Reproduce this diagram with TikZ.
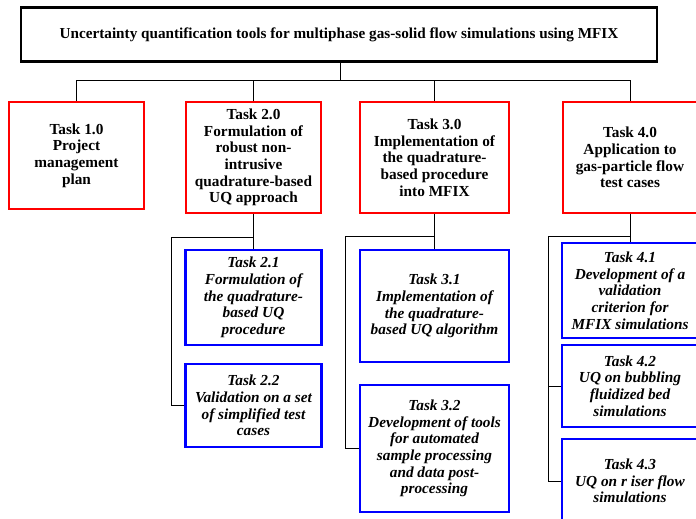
\documentclass[tikz,border=0pt]{standalone}
\usepackage{fontspec}
\setmainfont{Liberation Serif}
\begin{document}
\begin{tikzpicture}[x=1pt,y=-1pt,
  topbox/.style={draw=black, line width=2.4pt, minimum width=636pt, minimum height=54pt, inner sep=0pt, font=\bfseries\fontsize{15.2}{16}\selectfont},
  mainbox/.style={draw=red, line width=2.4pt, align=center, inner sep=0pt, font=\bfseries\fontsize{15.3}{16.7}\selectfont},
  subbox/.style={draw=blue, line width=2.4pt, align=center, inner sep=0pt, font=\bfseries\itshape\fontsize{15.3}{16.7}\selectfont},
  conn/.style={draw=black, line width=0.9pt}]
\useasboundingbox (0,0) rectangle (696,519);
\clip (0,0) rectangle (696,519);
\fill[white] (0,0) rectangle (696,519);

\node[topbox] (top) at (339,34.5) {Uncertainty quantification tools for multiphase gas-solid flow simulations using MFIX};

\node[mainbox, minimum width=135pt, minimum height=107pt] (t1) at (76.5,155.5) {Task 1.0\\Project\\management\\plan};
\node[mainbox, minimum width=135pt, minimum height=111pt] (t2) at (253.5,157.5) {Task 2.0\\Formulation of\\robust non-\\intrusive\\quadrature-based\\UQ approach};
\node[mainbox, minimum width=149pt, minimum height=111pt] (t3) at (434.5,157.5) {Task 3.0\\Implementation of\\the quadrature-\\based procedure\\into MFIX};
\node[mainbox, minimum width=134pt, minimum height=111pt] (t4) at (630,157.5) {Task 4.0\\Application to\\gas-particle flow\\test cases};

\node[subbox, minimum width=136pt, minimum height=95pt] (t21) at (253.5,297.5) {Task 2.1\\Formulation of\\the quadrature-\\based UQ\\procedure};
\node[subbox, minimum width=136pt, minimum height=83pt] (t22) at (253.5,405.5) {Task 2.2\\Validation on a set\\of simplified test\\cases};
\node[subbox, minimum width=149pt, minimum height=112pt] (t31) at (434.5,306) {Task 3.1\\Implementation of\\the quadrature-\\based UQ algorithm};
\node[subbox, minimum width=149pt, minimum height=127pt] (t32) at (434.5,448.5) {Task 3.2\\Development of tools\\for automated\\sample processing\\and data post-\\processing};
\node[subbox, minimum width=136pt, minimum height=95pt] (t41) at (630,290.5) {Task 4.1\\Development of a\\validation\\criterion for\\MFIX simulations};
\node[subbox, minimum width=136pt, minimum height=82pt] (t42) at (630,386) {Task 4.2\\UQ on bubbling\\fluidized bed\\simulations};
\node[subbox, minimum width=136pt, minimum height=84pt] (t43) at (630,481) {Task 4.3\\UQ on r iser flow\\simulations};

\coordinate (j0) at (340,80);
\coordinate (b2) at (171,237);
\coordinate (b3) at (345,236);
\coordinate (b4) at (548,236);

\draw[conn] (top.south -| j0) -- (j0);
\draw[conn] (t1.north) -- (t1.north |- j0) -- (t4.north |- j0) -- (t4.north);
\draw[conn] (t2.north) -- (t2.north |- j0);
\draw[conn] (t3.north) -- (t3.north |- j0);

\draw[conn] (t2.south) -- (t21.north);
\draw[conn] (t2.south |- b2) -- (b2) -- (b2 |- t22.west) -- (t22.west);

\draw[conn] (t3.south) -- (t31.north);
\draw[conn] (t3.south |- b3) -- (b3) -- (b3 |- t32.west) -- (t32.west);

\draw[conn] (t4.south) -- (t41.north);
\draw[conn] (t4.south |- b4) -- (b4) -- (b4 |- t43.west) -- (t43.west);
\draw[conn] (b4 |- t42.west) -- (t42.west);
\end{tikzpicture}
\end{document}
